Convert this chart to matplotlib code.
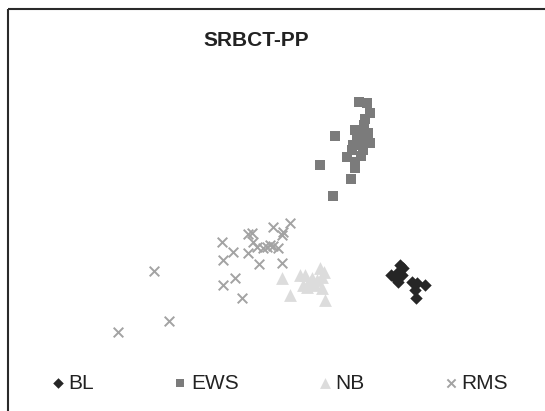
import matplotlib
matplotlib.use("Agg")
import matplotlib.pyplot as plt
from matplotlib.patches import Rectangle

plt.rcParams['font.family'] = ['Liberation Sans', 'DejaVu Sans']

# scores (pixel-like units, y grows downwards)
bl_x = [400, 403, 398, 391, 402, 398, 412, 417, 425, 415, 416, 395]
bl_y = [265, 268, 272, 275, 275, 282, 282, 283, 285, 290, 298, 278]

ews_x = [359, 367, 370, 365, 335, 355, 362, 368, 358, 353, 360, 370, 363, 347, 355, 355, 320, 351, 333,
         364, 357, 352, 366, 361]
ews_y = [102, 103, 113, 119, 136, 130, 130, 133, 135, 145, 143, 143, 150, 157, 162, 168, 165, 179, 196,
         125, 140, 150, 137, 156]

nb_x = [282, 290, 300, 305, 310, 320, 322, 315, 322, 325, 307, 312, 317, 303, 308, 324]
nb_y = [278, 295, 275, 275, 282, 268, 277, 285, 288, 300, 287, 278, 280, 285, 283, 272]

rms_x = [290, 273, 283, 282, 248, 252, 253, 257, 267, 270, 273, 278, 263, 222, 233, 223, 248, 259, 282,
         154, 235, 223, 242, 169, 118]
rms_y = [223, 227, 232, 235, 234, 233, 242, 247, 247, 245, 246, 248, 248, 242, 252, 260, 253, 264, 263,
         271, 278, 285, 298, 321, 332]

fig = plt.figure(figsize=(5.45, 4.11), dpi=100)
ax = fig.add_axes([0, 0, 1, 1])
ax.set_xlim(0, 545)
ax.set_ylim(411, 0)
ax.axis('off')

# frame (only left and top edges are visible in the crop)
ax.add_patch(Rectangle((7.5, 9.5), 560, 420, fill=False, lw=1.5, ec='#2a2a2a', zorder=0))

ax.scatter(nb_x, nb_y, marker='^', s=85, c='#dcdcdc', linewidths=0, label='NB', zorder=2)
ax.scatter(rms_x, rms_y, marker='x', s=48, c='#a3a3a3', linewidths=1.4, label='RMS', zorder=3)
ax.scatter(ews_x, ews_y, marker='s', s=58, c='#7b7b7b', linewidths=0, label='EWS', zorder=4)
ax.scatter(bl_x, bl_y, marker='D', s=40, c='#262626', linewidths=0, label='BL', zorder=5)

ax.text(256, 40, 'SRBCT-PP', ha='center', va='center', fontsize=15, fontweight='bold', color='#222222')

h, l = ax.get_legend_handles_labels()
order = [3, 2, 0, 1]
leg = ax.legend([h[i] for i in order], [l[i] for i in order], ncol=4, loc='center',
                bbox_to_anchor=(281 / 545, 1 - 383 / 411), frameon=False, fontsize=15,
                markerscale=0.85, handlelength=0.4, handletextpad=0.3, columnspacing=3.95,
                borderpad=0)
for t in leg.get_texts():
    t.set_color('#222222')

fig.savefig('out.png', dpi=100)
